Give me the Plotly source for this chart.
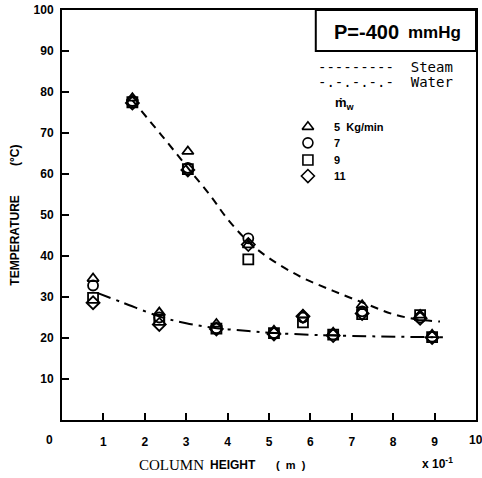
import plotly.graph_objects as go

# ---- data ----
flow_labels = ["5", "7", "9", "11"]
flow_symbols = ["triangle-up-open", "circle-open", "square-open", "diamond-open"]

steam_x = [1.7, 3.04, 4.5, 5.82, 7.25, 8.65]
steam_y5 = [78.5, 65.5, 42.7, 25.6, 28.0, 25.6]
steam_y7 = [77.8, 61.5, 44.3, 25.0, 26.5, 25.0]
steam_y9 = [77.5, 61.2, 39.2, 23.8, 25.8, 25.6]
steam_y11 = [77.3, 61.0, 42.8, 25.3, 26.0, 24.8]

water_x = [0.75, 2.35, 3.73, 5.12, 6.55, 8.94]
water_y5 = [34.5, 26.2, 23.4, 21.8, 21.3, 20.8]
water_y7 = [32.8, 25.0, 22.4, 21.2, 20.8, 20.3]
water_y9 = [29.8, 24.4, 22.3, 21.2, 20.8, 20.2]
water_y11 = [28.6, 23.3, 22.2, 21.0, 20.6, 20.1]

steam_curve_x = [1.7, 2.4, 3.04, 3.6, 4.0, 4.5, 5.0, 5.75, 6.55, 7.35, 8.0, 8.6, 9.13]
steam_curve_y = [78.0, 69.5, 61.5, 54.5, 49.0, 43.5, 39.5, 35.0, 31.5, 28.3, 25.8, 24.5, 24.0]
water_curve_x = [0.85, 1.5, 2.37, 3.0, 3.74, 4.5, 5.14, 6.0, 6.55, 7.5, 8.94, 9.2]
water_curve_y = [31.0, 28.5, 25.2, 23.6, 22.4, 21.7, 21.2, 20.8, 20.6, 20.4, 20.2, 20.2]

x_ticks = list(range(1, 10))
y_ticks = list(range(10, 101, 10))

steam_sets = [steam_y5, steam_y7, steam_y9, steam_y11]
water_sets = [water_y5, water_y7, water_y9, water_y11]

fig = go.Figure()

fig.add_trace(go.Scatter(x=steam_curve_x, y=steam_curve_y, mode="lines",
                         line=dict(color="black", width=2, dash="8px,6px", shape="spline"),
                         showlegend=False, hoverinfo="skip"))
fig.add_trace(go.Scatter(x=water_curve_x, y=water_curve_y, mode="lines",
                         line=dict(color="black", width=2, dash="14px,6px,3px,6px", shape="spline"),
                         showlegend=False, hoverinfo="skip"))

for sym, sy, wy, lab in zip(flow_symbols, steam_sets, water_sets, flow_labels):
    fig.add_trace(go.Scatter(x=steam_x + water_x, y=sy + wy, mode="markers",
                             marker=dict(symbol=sym, size=10, color="black",
                                         line=dict(color="black", width=1.8)),
                             name=lab, showlegend=False))

# legend marker samples on an overlay axis spanning the plot area (0..1)
leg_x = [0.594] * 4
leg_y = [0.715, 0.676, 0.634, 0.595]
for sym, lx, ly in zip(flow_symbols, leg_x, leg_y):
    fig.add_trace(go.Scatter(x=[lx], y=[ly], xaxis="x2", yaxis="y2", mode="markers",
                             marker=dict(symbol=sym, size=10, color="black",
                                         line=dict(color="black", width=1.6)),
                             showlegend=False, hoverinfo="skip"))

font_sans = "Liberation Sans, Arial, sans-serif"
font_serif = "Liberation Serif, Times New Roman, serif"
font_mono = "DejaVu Sans Mono, monospace"

fig.update_xaxes(range=[0, 10], tickvals=x_ticks, ticktext=[str(v) for v in x_ticks],
                 ticks="inside", ticklen=7, tickwidth=2, tickcolor="black",
                 showline=True, linecolor="black", linewidth=2, mirror=True,
                 showgrid=False, zeroline=False, ticklabelstandoff=10, automargin=False,
                 tickfont=dict(family=font_sans, size=12, color="black", weight="bold"))
fig.update_yaxes(range=[0, 100], tickvals=y_ticks, ticktext=[str(v) for v in y_ticks],
                 ticks="inside", ticklen=7, tickwidth=2, tickcolor="black",
                 showline=True, linecolor="black", linewidth=2, mirror=True,
                 showgrid=False, zeroline=False, ticklabelstandoff=4, automargin=False,
                 tickfont=dict(family=font_sans, size=12, color="black", weight="bold"))

fig.update_layout(
    xaxis2=dict(overlaying="x", range=[0, 1], visible=False, automargin=False),
    yaxis2=dict(overlaying="y", range=[0, 1], visible=False, automargin=False),
)

def ann(x, y, text, size, family=font_sans, weight="bold", xanchor="center", angle=0):
    return dict(xref="paper", yref="paper", x=x, y=y, text=text, showarrow=False,
                xanchor=xanchor, yanchor="middle", textangle=angle,
                font=dict(family=family, size=size, color="black", weight=weight))

annotations = [
    # axis titles
    ann(-0.114, 0.437, "TEMPERATURE", 12, angle=-90),
    ann(-0.114, 0.646, "(°C)", 12, angle=-90),
    ann(0.264, -0.110, "COLUMN", 15, family=font_serif, weight="normal"),
    ann(0.414, -0.110, "HEIGHT", 12),
    ann(0.553, -0.110, "(  m  )", 11),
    ann(0.908, -0.106, "x 10<sup>-1</sup>", 12),
    ann(-0.029, -0.049, "0", 12),
    ann(1.0, -0.049, "10", 12),
    # pressure box
    ann(0.736, 0.946, "P=-400", 20),
    ann(0.9, 0.944, "mmHg", 17),
    # legend
    ann(0.613, 0.861, "---------&nbsp;&nbsp;Steam", 14, family=font_mono, weight="normal", xanchor="left"),
    ann(0.613, 0.824, "-.-.-.-.-&nbsp;&nbsp;Water", 14, family=font_mono, weight="normal", xanchor="left"),
    ann(0.684, 0.773, "ṁ<sub>w</sub>", 13),
]
leg_texts = ["5 &nbsp;Kg/min", "7", "9", "11"]
for ly, t in zip(leg_y, leg_texts):
    annotations.append(ann(0.652, ly, t, 11, xanchor="left"))

fig.update_layout(
    width=482, height=478,
    margin=dict(l=62, r=6, t=10, b=58, autoexpand=False),
    paper_bgcolor="white", plot_bgcolor="white",
    annotations=annotations,
    shapes=[dict(type="rect", xref="paper", yref="paper", x0=0.613, x1=1.0, y0=0.9, y1=1.0,
                 line=dict(color="black", width=2))],
)

fig.write_html("out.html")
